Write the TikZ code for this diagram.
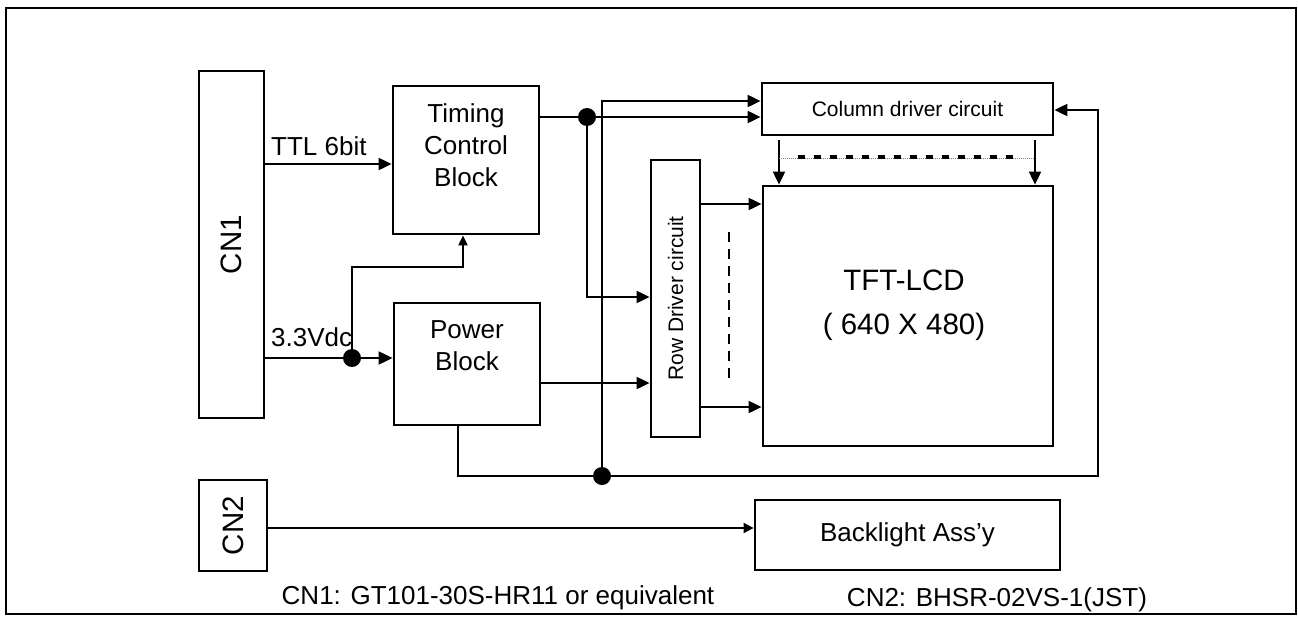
\documentclass[tikz,border=0pt]{standalone}
\usepackage{fontspec}
\setmainfont{Liberation Sans}
\usepackage{graphicx}
\usetikzlibrary{arrows.meta}
\begin{document}
\begin{tikzpicture}[x=1pt,y=-1pt,
  blk/.style={draw, line width=2.8pt, inner sep=0pt, font=\fontsize{26}{32}\selectfont},
  conn/.style={line width=2pt, -{Triangle[length=13pt,width=12pt]}},
  wire/.style={line width=2pt},
  dot/.style={circle, fill, inner sep=0pt, minimum size=18pt},
  txt/.style={inner sep=0pt, font=\fontsize{26}{32}\selectfont},
  big/.style={font=\fontsize{29.5}{44}\selectfont},
  small/.style={font=\fontsize{21}{25}\selectfont}]
\useasboundingbox (0,0) rectangle (1298,616);
\draw[line width=2pt] (6,8) rectangle (1296,614);

% blocks
\node[blk, big, minimum width=65pt, minimum height=347pt] (cn1) at (231.5,244.5) {\rotatebox{90}{CN1}};
\node[blk, minimum width=146pt, minimum height=148pt] (tcb) at (466,160) {};
\node[txt, align=center] (tcbt) at (466,145.5) {Timing\\Control\\Block};
\node[blk, minimum width=146pt, minimum height=122pt] (pwr) at (467,364) {};
\node[txt, align=center] (pwrt) at (467,346) {Power\\Block};
\node[blk, small, minimum width=291pt, minimum height=52pt] (col) at (907.5,109) {Column driver circuit};
\node[blk, small, minimum width=49pt, minimum height=277pt] (row) at (675.5,298.5) {\rotatebox{90}{Row Driver circuit}};
\node[blk, minimum width=290pt, minimum height=260pt] (tft) at (908,316) {};
\node[txt, big, align=center] (tftt) at (904,305) {TFT-LCD\\( 640 X 480)};
\node[blk, big, minimum width=68pt, minimum height=91pt] (cn2) at (233,525.5) {\rotatebox{90}{CN2}};
\node[blk, minimum width=305pt, minimum height=70pt] (bl) at (907.5,535) {Backlight Ass’y};

% labels
\node[txt, anchor=base west] (ttl) at (271,155) {TTL 6bit};
\node[txt, anchor=base west] (v33) at (271,346) {3.3Vdc};
\node[txt, anchor=base] (cn1l) at (498,604) {CN1: GT101-30S-HR11 or equivalent};
\node[txt, anchor=base] (cn2l) at (997,606) {CN2: BHSR-02VS-1(JST)};

% junction dots
\node[dot] (da) at (352,358) {};
\node[dot] (db) at (587,117) {};
\node[dot] (dc) at (602,476) {};

% bend points
\coordinate (a1) at (352,267);
\coordinate (a2) at (463,267);
\coordinate (b1) at (587,297);
\coordinate (c1) at (602,101);
\coordinate (p1) at (458,476);
\coordinate (p2) at (1098,476);
\coordinate (p3) at (1098,110);
\coordinate (k1) at (779,140);
\coordinate (k2) at (1035,140);

% connectors
\draw[conn] (cn1.east |- 0,164) -- (tcb.west |- 0,164);
\draw[conn, -{Triangle[length=14pt,width=13pt]}] (cn1.east |- da) -- (pwr.west |- da);
\draw[conn, -{Triangle[length=10pt,width=9pt]}] (da.center) -- (a1) -- (a2) -- (a2 |- tcb.south);
\draw[conn] (tcb.east |- db) -- (col.west |- db);
\draw[conn] (db.center) -- (b1) -- (row.west |- b1);
\draw[conn] (dc.center) -- (c1) -- (col.west |- c1);
\draw[conn] (p1 |- pwr.south) -- (p1) -- (p2) -- (p3) -- (col.east |- p3);
\draw[conn] (pwr.east |- 0,383) -- (row.west |- 0,383);
\draw[conn] (row.east |- 0,204) -- (tft.west |- 0,204);
\draw[conn] (row.east |- 0,407) -- (tft.west |- 0,407);
\draw[wire, dash pattern=on 10pt off 7pt] (729,232) -- (729,385);
\draw[conn] (k1) -- (k1 |- tft.north);
\draw[conn] (k2) -- (k2 |- tft.north);
\draw[line width=1pt, dash pattern=on 1pt off 1pt, gray] (k1 |- 0,158) -- (k2 |- 0,158);
\draw[line width=4pt, dash pattern=on 7pt off 9pt] (798,156.5) -- (1018,156.5);
\draw[conn, -{Triangle[length=10pt,width=10pt]}] (cn2.east |- 0,528) -- (bl.west |- 0,528);
\end{tikzpicture}
\end{document}
